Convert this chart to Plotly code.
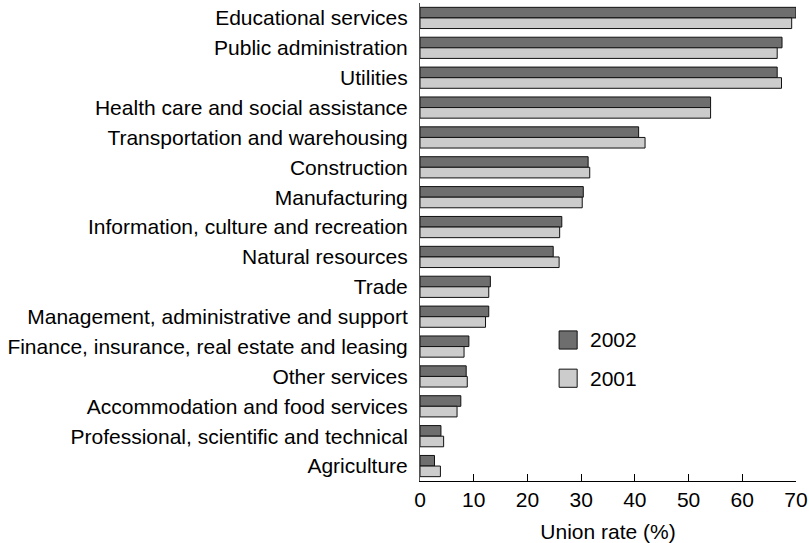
import plotly.graph_objects as go

categories = [
    "Educational services",
    "Public administration",
    "Utilities",
    "Health care and social assistance",
    "Transportation and warehousing",
    "Construction",
    "Manufacturing",
    "Information, culture and recreation",
    "Natural resources",
    "Trade",
    "Management, administrative and support",
    "Finance, insurance, real estate and leasing",
    "Other services",
    "Accommodation and food services",
    "Professional, scientific and technical",
    "Agriculture",
]
values_2002 = [70.0, 67.4, 66.5, 54.1, 40.7, 31.3, 30.4, 26.4, 24.8, 13.1, 12.8, 9.1, 8.6, 7.6, 3.9, 2.7]
values_2001 = [69.2, 66.5, 67.3, 54.1, 41.9, 31.6, 30.2, 26.0, 25.9, 12.8, 12.2, 8.2, 8.8, 6.9, 4.4, 3.8]
x_ticks = [0, 10, 20, 30, 40, 50, 60, 70]

c2002 = "#6e6e6e"
c2001 = "#cccccc"
FONT = "Liberation Sans, Arial, sans-serif"
FS = 21

fig = go.Figure()
fig.add_trace(go.Bar(y=categories, x=values_2002, orientation="h", name="2002",
                     marker=dict(color=c2002, line=dict(color="#111111", width=1))))
fig.add_trace(go.Bar(y=categories, x=values_2001, orientation="h", name="2001",
                     marker=dict(color=c2001, line=dict(color="#111111", width=1))))

fig.update_layout(
    width=809, height=543,
    margin=dict(l=420, r=13, t=3, b=62),
    paper_bgcolor="white", plot_bgcolor="white",
    barmode="group", bargap=0.29, bargroupgap=0,
    showlegend=False,
    font=dict(family=FONT, color="black", size=FS),
    xaxis=dict(range=[0, 70], tickvals=x_ticks, ticks="inside", ticklen=7,
               tickcolor="black", showline=True, linecolor="black", linewidth=1,
               showgrid=False, zeroline=False, tickfont=dict(size=FS),
               automargin=False,
               title=dict(text="Union rate (%)", font=dict(size=FS), standoff=14)),
    yaxis=dict(autorange="reversed", showline=True, linecolor="#555555", linewidth=1,
               showgrid=False, ticks="", tickfont=dict(size=FS), ticklabelstandoff=7,
               automargin=False),
)

# legend drawn in paper coordinates
legend_items = [("2002", c2002, 0.314), ("2001", c2001, 0.234)]
for name, col, ytop in legend_items:
    fig.add_shape(type="rect", xref="paper", yref="paper",
                  x0=0.370, x1=0.418, y0=ytop - 0.038, y1=ytop,
                  fillcolor=col, line=dict(color="#111111", width=1))
    fig.add_annotation(xref="paper", yref="paper", x=0.448, y=ytop - 0.019,
                       text=name, showarrow=False, xanchor="left", yanchor="middle",
                       font=dict(size=FS, family=FONT, color="black"))

fig.write_html("out.html", config={"displayModeBar": False},
               post_script="document.body.style.margin='0';document.body.style.overflow='hidden';")
